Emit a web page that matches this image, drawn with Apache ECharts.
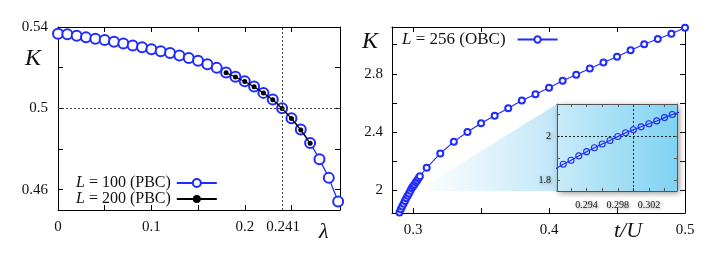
<!DOCTYPE html>
<html><head><meta charset="utf-8">
<script src="https://cdn.jsdelivr.net/npm/echarts@6/dist/echarts.min.js"></script>
<style>html,body{margin:0;padding:0;background:#fff}#c{width:706px;height:253px}</style>
</head><body><div id="c"></div>
<script>
// ---- data ----
const lambda100 = [0,0.01,0.02,0.03,0.04,0.05,0.06,0.07,0.08,0.09,0.10,0.11,0.12,0.13,0.14,0.15,0.16,0.17,0.18,0.19,0.20,0.21,0.22,0.23,0.24,0.25,0.26,0.27,0.28,0.29,0.30];
const K100 = [0.5367,0.5364,0.5357,0.5349,0.5342,0.5336,0.5328,0.5319,0.5309,0.5300,0.5291,0.5281,0.5272,0.5260,0.5247,0.5234,0.5217,0.5199,0.5176,0.5155,0.5133,0.5107,0.5076,0.5043,0.5000,0.4951,0.4896,0.4830,0.4750,0.4658,0.4542];
const lambda200 = [0.18,0.19,0.20,0.21,0.22,0.23,0.24,0.25,0.26,0.27];
const K200 = [0.5175,0.5154,0.5132,0.5106,0.5075,0.5042,0.4999,0.4950,0.4894,0.4828];
const tU = [0.290,0.291,0.292,0.293,0.294,0.295,0.296,0.297,0.298,0.299,0.300,0.301,0.302,0.303,0.304,0.305,0.31,0.32,0.33,0.34,0.35,0.36,0.37,0.38,0.39,0.40,0.41,0.42,0.43,0.44,0.45,0.46,0.47,0.48,0.49,0.50];
const K256 = [1.850,1.872,1.890,1.910,1.929,1.947,1.964,1.980,1.998,2.015,2.029,2.042,2.056,2.069,2.084,2.098,2.156,2.254,2.335,2.401,2.461,2.513,2.564,2.617,2.660,2.704,2.752,2.793,2.837,2.878,2.917,2.961,3.002,3.038,3.075,3.116];
// tick / label values
const leftXLabels = [0,0.1,0.2,0.241];
const leftXTicks = [0,0.05,0.1,0.15,0.2,0.25];
const leftYLabels = [0.46,0.5,0.54];
const leftYTicks = [0.46,0.48,0.5,0.52,0.54];
const rightXLabels = [0.3,0.4,0.5];
const rightXTicks = [0.3,0.35,0.4,0.45,0.5];
const rightYLabels = [2,2.4,2.8];
const rightYTicks = [2,2.2,2.4,2.6,2.8,3.0];
const insetXLabels = [0.294,0.298,0.302];
const insetXTicks = [0.292,0.294,0.296,0.298,0.300,0.302,0.304];
const insetYLabels = [1.8,2];
const insetYTicks = [1.8,1.9,2.0,2.1];

const FONT = 'Liberation Serif';
const BLUE = '#1f2bff';
const fmt = v => String(+(+v).toFixed(3));
const zip = (a,b) => a.map((x,i)=>[x,b[i]]);

function axis(dim, grid, pos, min, max, labels, ticks, opts) {
  opts = opts || {};
  const showLab = !!labels;
  return {
    type:'value', gridIndex:grid, position:pos, min:min, max:max, scale:true,
    axisLine:{show:true, onZero:false, lineStyle:{color:opts.lineColor||'#000', width:1}},
    axisTick:{show:true, inside:true, length:opts.tickLen||5, customValues:ticks, lineStyle:{color:opts.lineColor||'#000'}},
    axisLabel:{show:showLab, customValues:labels||ticks, formatter:fmt, margin:opts.margin||9,
      fontFamily:FONT, fontSize:opts.fontSize||15, color:'#111',
      textShadowColor:opts.shadow?'rgba(0,0,0,0.45)':'transparent', textShadowBlur:opts.shadow?3:0, textShadowOffsetX:opts.shadow?1:0, textShadowOffsetY:opts.shadow?1:0},
    splitLine:{show:false}
  };
}

const chart = echarts.init(document.getElementById('c'));
const insetRect = {left:557, top:104, width:120, height:87};

const labels = [
  {id:'kL', type:'text', left:25, top:47, style:{text:'K', fontFamily:FONT, fontStyle:'italic', fontSize:24, fill:'#111'}},
  {id:'lam', type:'text', left:319, top:221, style:{text:'λ', fontFamily:FONT, fontStyle:'italic', fontSize:22, fill:'#111'}},
  {id:'kR', type:'text', left:362, top:30, style:{text:'K', fontFamily:FONT, fontStyle:'italic', fontSize:24, fill:'#111'}},
  {id:'tu', type:'text', left:614, top:220, style:{text:'t/U', fontFamily:FONT, fontStyle:'italic', fontSize:22, fill:'#111'}}
];

const option = {
  animation:false,
  backgroundColor:'#fff',
  grid:[
    {left:58, top:27, width:282, height:183},
    {left:392, top:27, width:293, height:186},
    {left:insetRect.left, top:insetRect.top, width:insetRect.width, height:insetRect.height, show:true,
     borderWidth:0,
     backgroundColor:new echarts.graphic.LinearGradient(0,0,1,0,[{offset:0,color:'#c9ebf9'},{offset:1,color:'#7fd3f2'}]),
     shadowBlur:6, shadowColor:'rgba(0,0,0,0.45)', shadowOffsetX:2, shadowOffsetY:2, z:3}
  ],
  xAxis:[
    axis('x',0,'bottom',0,0.302,leftXLabels,leftXTicks,{margin:10}),
    axis('x',0,'top',0,0.302,null,leftXTicks),
    axis('x',1,'bottom',0.2845,0.5,rightXLabels,rightXTicks,{margin:10}),
    axis('x',1,'top',0.2845,0.5,null,rightXTicks),
    Object.assign(axis('x',2,'bottom',0.2902,0.3056,insetXLabels,insetXTicks,{fontSize:10,margin:9,shadow:true,lineColor:'#555',tickLen:3}),{z:4}),
    Object.assign(axis('x',2,'top',0.2902,0.3056,null,insetXTicks,{lineColor:'#555',tickLen:3}),{z:4})
  ],
  yAxis:[
    axis('y',0,'left',0.45,0.54,leftYLabels,leftYTicks,{margin:10}),
    axis('y',0,'right',0.45,0.54,null,leftYTicks),
    axis('y',1,'left',1.846,3.121,rightYLabels,rightYTicks,{margin:9}),
    axis('y',1,'right',1.846,3.121,null,rightYTicks),
    Object.assign(axis('y',2,'left',1.75,2.146,insetYLabels,insetYTicks,{fontSize:10,margin:6,shadow:true,lineColor:'#555',tickLen:3}),{z:4}),
    Object.assign(axis('y',2,'right',1.75,2.146,null,insetYTicks,{lineColor:'#555',tickLen:3}),{z:4})
  ],
  legend:[
    {left:76, top:175, orient:'vertical', align:'right', itemWidth:40, itemHeight:10, itemGap:0, padding:0,
     data:['L100','L200'],
     formatter:n => n==='L100' ? '{i|L} = 100 (PBC)' : '{i|L} = 200 (PBC)',
     textStyle:{fontFamily:FONT, fontSize:16, color:'#111', lineHeight:16, padding:[0,1,0,0], rich:{i:{fontFamily:FONT, fontStyle:'italic', fontSize:16, lineHeight:16}}}},
    {left:402, top:31, orient:'vertical', align:'right', itemWidth:40, itemHeight:8, padding:0,
     data:['L256'],
     formatter:() => '{i|L} = 256 (OBC)',
     textStyle:{fontFamily:FONT, fontSize:17, color:'#111', padding:[0,7,0,0], rich:{i:{fontFamily:FONT, fontStyle:'italic', fontSize:17}}}}
  ],
  series:[
    {name:'L100', type:'line', xAxisIndex:0, yAxisIndex:0, data:zip(lambda100,K100),
     symbol:'emptyCircle', symbolSize:10, color:BLUE, lineStyle:{width:1.3, color:BLUE},
     itemStyle:{color:BLUE, borderWidth:1.5}, z:3,
     markLine:{silent:true, symbol:'none', label:{show:false}, animation:false,
       lineStyle:{color:'#444', type:[2,2], width:1},
       data:[{xAxis:0.241},{yAxis:0.5}]}},
    {name:'L200', type:'line', xAxisIndex:0, yAxisIndex:0, data:zip(lambda200,K200),
     symbol:'circle', symbolSize:5, color:'#000', lineStyle:{width:1.2, color:'#000'},
     itemStyle:{color:'#000'}, z:4},
    {name:'L256', type:'line', xAxisIndex:2, yAxisIndex:2, data:zip(tU,K256),
     symbol:'emptyCircle', symbolSize:6, color:BLUE, lineStyle:{width:1.1, color:BLUE},
     itemStyle:{color:BLUE, borderWidth:1.1}, z:2},
    {name:'inset', type:'line', xAxisIndex:4, yAxisIndex:4, data:zip(tU,K256), clip:true,
     symbol:'circle', symbolSize:6, color:BLUE, lineStyle:{width:1.1, color:BLUE},
     itemStyle:{color:'rgba(0,0,0,0)', borderColor:BLUE, borderWidth:1.1}, z:5,
     markLine:{silent:true, symbol:'none', label:{show:false}, animation:false,
       lineStyle:{color:'#222', type:[2,2], width:1},
       data:[{xAxis:0.298},{yAxis:2}]}}
  ],
  graphic:labels
};
chart.setOption(option);

// zoom wedge from the cluster to the inset
const apex = chart.convertToPixel({gridIndex:1}, [0.3025, 2.0]);
const bottomY = insetRect.top + insetRect.height;
chart.setOption({graphic:labels.concat([
  {id:'wedge', type:'polygon', z:1,
   shape:{points:[[apex[0], bottomY],[insetRect.left, insetRect.top],[insetRect.left, bottomY]]},
   style:{fill:new echarts.graphic.LinearGradient(0,0,1,0,[{offset:0,color:'rgba(200,233,249,0)'},{offset:1,color:'#bfe6f8'}])}}
])});
</script>
</body></html>
